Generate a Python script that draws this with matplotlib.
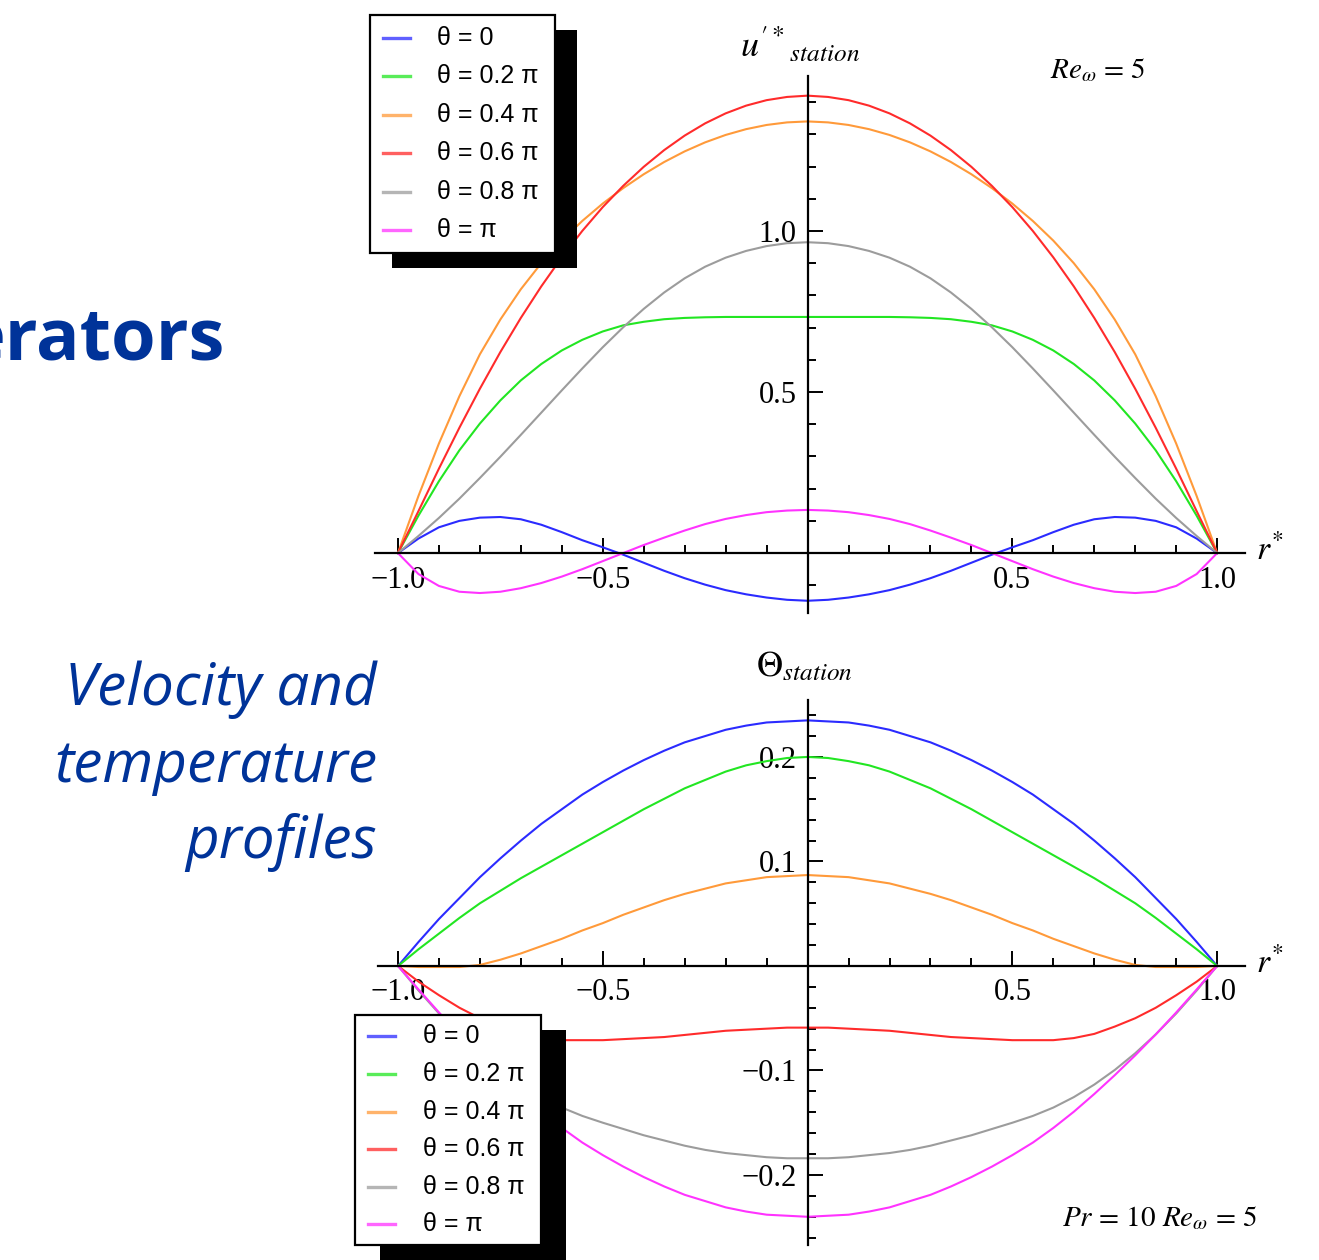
import matplotlib.pyplot as plt
from matplotlib.patches import Rectangle
from matplotlib.lines import Line2D

plt.rcParams["mathtext.fontset"] = "stix"

W, H = 1319, 1260

# =========================
# data
# =========================
r_star = [-1.0, -0.95, -0.9, -0.85, -0.8, -0.75, -0.7, -0.65, -0.6, -0.55, -0.5,
          -0.45, -0.4, -0.35, -0.3, -0.25, -0.2, -0.15, -0.1, -0.05, 0.0,
          0.05, 0.1, 0.15, 0.2, 0.25, 0.3, 0.35, 0.4, 0.45, 0.5,
          0.55, 0.6, 0.65, 0.7, 0.75, 0.8, 0.85, 0.9, 0.95, 1.0]

theta_labels = ["θ = 0", "θ = 0.2 π", "θ = 0.4 π", "θ = 0.6 π", "θ = 0.8 π", "θ = π"]
line_colors = ["#2b2bff", "#22e622", "#ff9a3a", "#ff2b2b", "#9c9c9c", "#ff33ff"]

# velocity profiles u'*_station
u_t0 = [0.0, 0.045, 0.08, 0.10, 0.11, 0.112, 0.105, 0.088, 0.065, 0.04, 0.018,
        -0.005, -0.03, -0.055, -0.078, -0.098, -0.115, -0.128, -0.138, -0.145, -0.148,
        -0.145, -0.138, -0.128, -0.115, -0.098, -0.078, -0.055, -0.03, -0.005, 0.018,
        0.04, 0.065, 0.088, 0.105, 0.112, 0.11, 0.10, 0.08, 0.045, 0.0]
u_t02 = [0.0, 0.116, 0.223, 0.319, 0.402, 0.474, 0.536, 0.587, 0.629, 0.662, 0.688,
         0.707, 0.718, 0.726, 0.73, 0.732, 0.733, 0.733, 0.733, 0.733, 0.733,
         0.733, 0.733, 0.733, 0.733, 0.732, 0.73, 0.726, 0.718, 0.707, 0.688,
         0.662, 0.629, 0.587, 0.536, 0.474, 0.402, 0.319, 0.223, 0.116, 0.0]
u_t04 = [0.0, 0.177, 0.34, 0.487, 0.617, 0.725, 0.819, 0.90, 0.97, 1.031, 1.085,
         1.133, 1.176, 1.214, 1.247, 1.275, 1.298, 1.316, 1.329, 1.337, 1.34,
         1.337, 1.329, 1.316, 1.298, 1.275, 1.247, 1.214, 1.176, 1.133, 1.085,
         1.031, 0.97, 0.90, 0.819, 0.725, 0.617, 0.487, 0.34, 0.177, 0.0]
u_t06 = [0.0, 0.13, 0.262, 0.389, 0.51, 0.624, 0.73, 0.828, 0.918, 1.0, 1.074,
         1.14, 1.199, 1.251, 1.296, 1.334, 1.365, 1.389, 1.406, 1.416, 1.42,
         1.416, 1.406, 1.389, 1.365, 1.334, 1.296, 1.251, 1.199, 1.14, 1.074,
         1.0, 0.918, 0.828, 0.73, 0.624, 0.51, 0.389, 0.262, 0.13, 0.0]
u_t08 = [0.0, 0.053, 0.109, 0.169, 0.233, 0.299, 0.367, 0.436, 0.505, 0.573, 0.639,
         0.701, 0.758, 0.809, 0.853, 0.889, 0.917, 0.938, 0.953, 0.962, 0.965,
         0.962, 0.953, 0.938, 0.917, 0.889, 0.853, 0.809, 0.758, 0.701, 0.639,
         0.573, 0.505, 0.436, 0.367, 0.299, 0.233, 0.169, 0.109, 0.053, 0.0]
u_t10 = [0.0, -0.065, -0.102, -0.12, -0.124, -0.12, -0.109, -0.093, -0.073, -0.05, -0.025,
         0.0, 0.025, 0.048, 0.07, 0.09, 0.106, 0.118, 0.127, 0.132, 0.134,
         0.132, 0.127, 0.118, 0.106, 0.09, 0.07, 0.048, 0.025, 0.0, -0.025,
         -0.05, -0.073, -0.093, -0.109, -0.12, -0.124, -0.12, -0.102, -0.065, 0.0]

# temperature profiles Theta_station
T_t0 = [0.0, 0.023, 0.045, 0.065, 0.085, 0.103, 0.12, 0.136, 0.15, 0.164, 0.176,
        0.187, 0.197, 0.206, 0.214, 0.22, 0.226, 0.23, 0.233, 0.234, 0.235,
        0.234, 0.233, 0.23, 0.226, 0.22, 0.214, 0.206, 0.197, 0.187, 0.176,
        0.164, 0.15, 0.136, 0.12, 0.103, 0.085, 0.065, 0.045, 0.023, 0.0]
T_t02 = [0.0, 0.016, 0.031, 0.046, 0.06, 0.072, 0.084, 0.095, 0.106, 0.117, 0.128,
         0.139, 0.15, 0.16, 0.17, 0.178, 0.186, 0.192, 0.196, 0.199, 0.2,
         0.199, 0.196, 0.192, 0.186, 0.178, 0.17, 0.16, 0.15, 0.139, 0.128,
         0.117, 0.106, 0.095, 0.084, 0.072, 0.06, 0.046, 0.031, 0.016, 0.0]
T_t04 = [0.0, -0.001, -0.001, -0.001, 0.001, 0.006, 0.012, 0.019, 0.026, 0.034, 0.041,
         0.049, 0.056, 0.063, 0.069, 0.074, 0.079, 0.082, 0.085, 0.086, 0.087,
         0.086, 0.085, 0.082, 0.079, 0.074, 0.069, 0.063, 0.056, 0.049, 0.041,
         0.034, 0.026, 0.019, 0.012, 0.006, 0.001, -0.001, -0.001, -0.001, 0.0]
T_t06 = [0.0, -0.015, -0.028, -0.04, -0.05, -0.058, -0.065, -0.069, -0.071, -0.071, -0.071,
         -0.07, -0.069, -0.068, -0.066, -0.064, -0.062, -0.061, -0.06, -0.059, -0.059,
         -0.059, -0.06, -0.061, -0.062, -0.064, -0.066, -0.068, -0.069, -0.07, -0.071,
         -0.071, -0.071, -0.069, -0.065, -0.058, -0.05, -0.04, -0.028, -0.015, 0.0]
T_t08 = [0.0, -0.0235, -0.0455, -0.0655, -0.0835, -0.0995, -0.1135, -0.1255, -0.1355, -0.1435, -0.15,
         -0.156, -0.162, -0.167, -0.172, -0.176, -0.179, -0.181, -0.183, -0.184, -0.184,
         -0.184, -0.183, -0.181, -0.179, -0.176, -0.172, -0.167, -0.162, -0.156, -0.15,
         -0.1435, -0.1355, -0.1255, -0.1135, -0.0995, -0.0835, -0.0655, -0.0455, -0.0235, 0.0]
T_t10 = [0.0, -0.0225, -0.0445, -0.0655, -0.0855, -0.1045, -0.1225, -0.1395, -0.155, -0.169, -0.181,
         -0.192, -0.202, -0.211, -0.219, -0.225, -0.231, -0.235, -0.238, -0.239, -0.24,
         -0.239, -0.238, -0.235, -0.231, -0.225, -0.219, -0.211, -0.202, -0.192, -0.181,
         -0.169, -0.155, -0.1395, -0.1225, -0.1045, -0.0855, -0.0655, -0.0445, -0.0225, 0.0]

u_series = [u_t0, u_t02, u_t04, u_t06, u_t08, u_t10]
T_series = [T_t0, T_t02, T_t04, T_t06, T_t08, T_t10]


# =========================
# helpers (pixel layout, origin top-left)
# =========================
def fig_rect(x0, y0, x1, y1):
    return [x0 / W, 1 - y1 / H, (x1 - x0) / W, (y1 - y0) / H]


def fx(x):
    return x / W


def fy(y):
    return 1 - y / H


def mathematica_axes(ax, xticks, xlabels, yticks, ylabels, yminor):
    for s in ("top", "right"):
        ax.spines[s].set_visible(False)
    for s in ("left", "bottom"):
        ax.spines[s].set_position(("data", 0))
        ax.spines[s].set_linewidth(1.6)
    ax.patch.set_visible(False)
    ax.set_xticks(xticks, xlabels)
    ax.set_yticks(yticks, ylabels)
    ax.set_xticks([t / 10 for t in range(-10, 11) if t % 5], minor=True)
    ax.set_yticks(yminor, minor=True)
    ax.tick_params(which="both", direction="in", width=1.4)
    ax.tick_params(which="major", length=11)
    ax.tick_params(which="minor", length=6)
    ax.tick_params(axis="x", pad=9)
    ax.tick_params(axis="y", pad=8)
    for lab in ax.get_xticklabels() + ax.get_yticklabels():
        lab.set_family("Liberation Serif")
        lab.set_fontsize(22)


def draw_legend(box, shift, rows, hx, tx):
    x0, y0, x1, y1 = box
    shadow = Rectangle((fx(x0 + shift[0]), fy(y1 + shift[1])),
                       (x1 - x0) / W, (y1 - y0) / H,
                       transform=fig.transFigure, facecolor="black",
                       edgecolor="none", zorder=5)
    frame = Rectangle((fx(x0), fy(y1)), (x1 - x0) / W, (y1 - y0) / H,
                      transform=fig.transFigure, facecolor="white",
                      edgecolor="black", linewidth=1.6, zorder=6)
    fig.add_artist(shadow)
    fig.add_artist(frame)
    for y, lab, col in zip(rows, theta_labels, line_colors):
        fig.add_artist(Line2D([fx(hx[0]), fx(hx[1])], [fy(y), fy(y)],
                              transform=fig.transFigure, color=col,
                              lw=2.4, alpha=0.75, zorder=7))
        fig.text(fx(tx), fy(y), lab, ha="left", va="center",
                 family="Liberation Sans", fontsize=18, zorder=7)


fig = plt.figure(figsize=(W / 100, H / 100), dpi=100)

# =========================
# top: velocity
# =========================
ax_u = fig.add_axes(fig_rect(375, 76, 1245, 613))
for vals, col in zip(u_series, line_colors):
    ax_u.plot(r_star, vals, color=col, lw=1.5, clip_on=False)
ax_u.set_xlim(-1.056, 1.068)
ax_u.set_ylim(-0.186, 1.481)
mathematica_axes(ax_u, [-1, -0.5, 0.5, 1], ["\u22121.0", "\u22120.5", "0.5", "1.0"],
                 [0.5, 1.0], ["0.5", "1.0"],
                 [t / 10 for t in range(-1, 15) if t % 5])

# =========================
# bottom: temperature
# =========================
ax_t = fig.add_axes(fig_rect(378, 700, 1245, 1245))
for vals, col in zip(T_series, line_colors):
    ax_t.plot(r_star, vals, color=col, lw=1.5, clip_on=False)
ax_t.set_xlim(-1.049, 1.068)
ax_t.set_ylim(-0.267, 0.2545)
mathematica_axes(ax_t, [-1, -0.5, 0.5, 1], ["\u22121.0", "\u22120.5", "0.5", "1.0"],
                 [-0.2, -0.1, 0.1, 0.2], ["\u22120.2", "\u22120.1", "0.1", "0.2"],
                 [t / 100 for t in range(-26, 26, 2) if t % 10])

# axis captions
fig.text(fx(800), fy(45), r"$u^{\prime *}{}_{station}$", ha="center", va="center", fontsize=26)
fig.text(fx(1098), fy(70), r"$Re_{\omega}$ = 5", ha="center", va="center",
         fontsize=21, family="STIXGeneral")
fig.text(fx(1270), fy(550), r"$r^{*}$", ha="center", va="center", fontsize=24)
fig.text(fx(804), fy(666), r"$\Theta_{station}$", ha="center", va="center", fontsize=26)
fig.text(fx(1270), fy(963), r"$r^{*}$", ha="center", va="center", fontsize=24)
fig.text(fx(1160), fy(1218), r"$Pr$ = 10 $Re_{\omega}$ = 5", ha="center", va="center",
         fontsize=21, family="STIXGeneral")

# legends with Mathematica-style drop shadow
draw_legend((370, 15, 555, 253), (22, 15), [38, 76, 115, 153, 192, 230], (383, 410), 437)
draw_legend((355, 1015, 541, 1245), (25, 15), [1036, 1074, 1112, 1149, 1187, 1224], (368, 395), 423)

# slide text
fig.text(fx(225), fy(360), "erators", ha="right", va="baseline", fontsize=52,
         fontweight="bold", color="#003399", family="Open Sans")
for y, line in zip([705, 782, 858], ["Velocity and", "temperature", "profiles"]):
    fig.text(fx(377), fy(y), line, ha="right", va="baseline", fontsize=42,
             style="italic", color="#003399", family="Open Sans")

fig.savefig("out.png", dpi=100)
